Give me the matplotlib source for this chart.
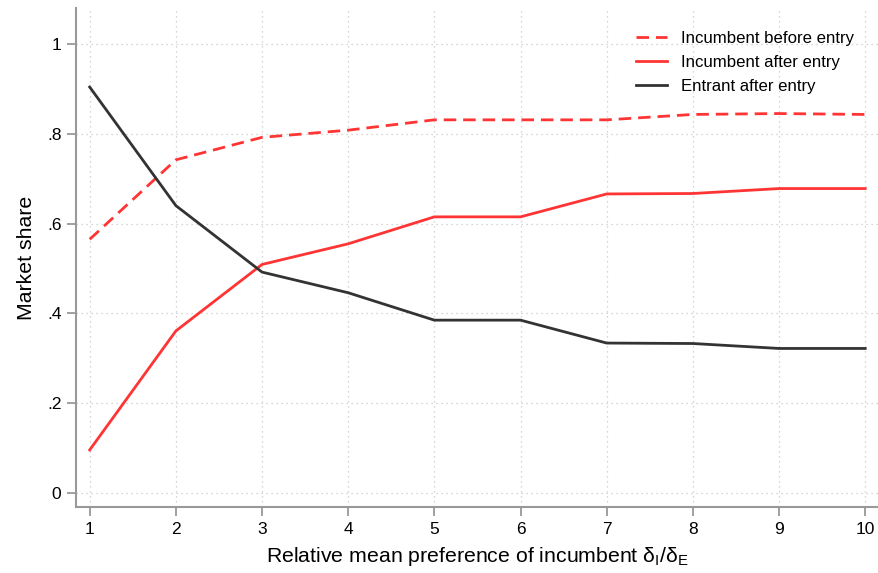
import numpy as np
import matplotlib
matplotlib.use("Agg")
import matplotlib.pyplot as plt

plt.rcParams['font.family'] = ['Liberation Sans', 'DejaVu Sans']

x = [1, 2, 3, 4, 5, 6, 7, 8, 9, 10]
inc_before = [0.565, 0.742, 0.792, 0.808, 0.831, 0.831, 0.831, 0.843, 0.845, 0.843]
inc_after = [0.096, 0.361, 0.509, 0.555, 0.615, 0.615, 0.666, 0.667, 0.678, 0.678]
entrant = [0.904, 0.640, 0.492, 0.446, 0.385, 0.385, 0.334, 0.333, 0.322, 0.322]

yticks = [0, 0.2, 0.4, 0.6, 0.8, 1]
ylabels = ['0', '.2', '.4', '.6', '.8', '1']

red = '#ff3434'
dark = '#333333'
gray = '#999999'

fig = plt.figure(figsize=(8.79, 5.73), dpi=100)
ax = fig.add_axes([76/879, 66/573, 803/879, 499/573])

ax.plot(x, inc_before, color=red, lw=2.0, ls=(0, (4.5, 2.5)), label='Incumbent before entry')
ax.plot(x, inc_after, color=red, lw=2.0, label='Incumbent after entry')
ax.plot(x, entrant, color=dark, lw=2.0, label='Entrant after entry')

ax.set_xlim(0.841, 10.16)
ax.set_ylim(-0.031, 1.08)
ax.set_xticks(x)
ax.set_yticks(yticks)
ax.set_yticklabels(ylabels)

ax.grid(True, color='#c8c8c8', ls=(0, (1, 3)), lw=0.9)
ax.set_axisbelow(True)

for s in ['top', 'right']:
    ax.spines[s].set_visible(False)
for s in ['left', 'bottom']:
    ax.spines[s].set_color(gray)
    ax.spines[s].set_linewidth(1.5)

ax.tick_params(axis='both', colors=gray, labelcolor='black', length=6.5, width=1.3,
               labelsize=12.5, pad=4)

ax.set_ylabel('Market share', fontsize=15.3, labelpad=8)
ax.set_xlabel(r'Relative mean preference of incumbent $\mathregular{\delta_I/\delta_E}$',
              fontsize=15.3, labelpad=6)

ax.legend(loc='upper right', bbox_to_anchor=(0.988, 0.985), frameon=False, fontsize=12.1,
          handlelength=1.85, handletextpad=0.85, labelspacing=0.55)

fig.savefig('out.png', dpi=100)
